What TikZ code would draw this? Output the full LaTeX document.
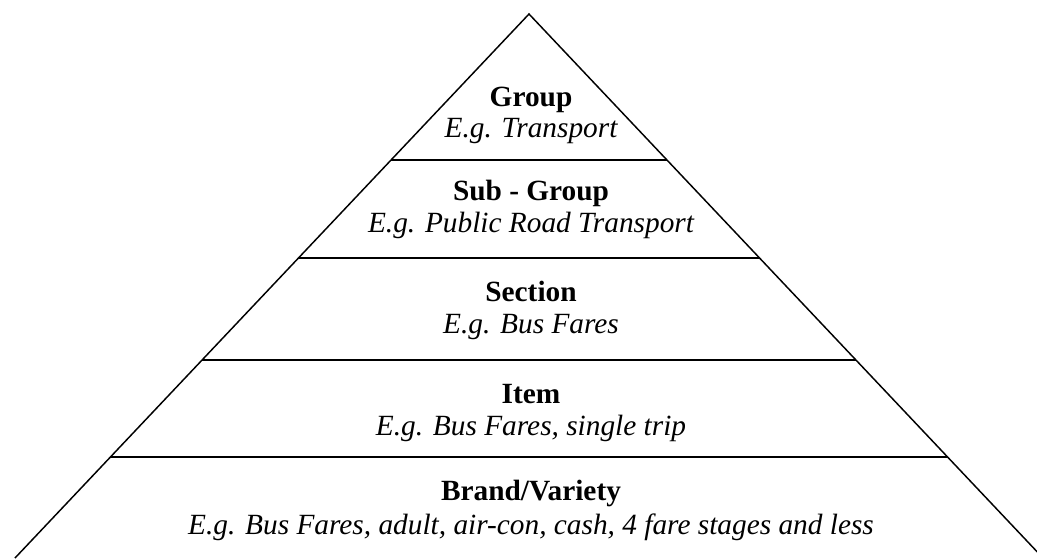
\documentclass[tikz,border=0pt]{standalone}
\usepackage{fontspec}
\setmainfont{Liberation Serif}
\usetikzlibrary{calc}

\begin{document}
\begin{tikzpicture}[x=0.75pt,y=-0.75pt,line width=1.1pt]
	\tikzstyle{Title}=[anchor=base,inner sep=0pt,font=\fontsize{22}{26}\selectfont\bfseries]
	\tikzstyle{Example}=[anchor=base,inner sep=0pt,font=\fontsize{22}{26}\selectfont\itshape]
	\useasboundingbox (0,0) rectangle (1037,558);
	\clip (0,0) rectangle (1037,558);
	\coordinate (apex) at (529,14);
	\coordinate (BL) at (15,558);
	\coordinate (BR) at (1043,558);
	\draw (BL) -- (apex) -- (BR);
	% levels
	\foreach \t in {0.2684,0.4485,0.6360,0.8143}
		\draw ($(apex)!\t!(BL)$) -- ($(apex)!\t!(BR)$);
	\node[Title] (group) at (531,106) {Group};
	\node[Example] (groupEx) at (531,137) {E.g. Transport};
	\node[Title] (subgroup) at (531,200) {Sub - Group};
	\node[Example] (subgroupEx) at (531,232) {E.g. Public Road Transport};
	\node[Title] (section) at (531,301) {Section};
	\node[Example] (sectionEx) at (531,333) {E.g. Bus Fares};
	\node[Title] (item) at (531,403) {Item};
	\node[Example] (itemEx) at (531,435) {E.g. Bus Fares, single trip};
	\node[Title] (brand) at (531,500) {Brand/Variety};
	\node[Example] (brandEx) at (531,534) {E.g. Bus Fares, adult, air-con, cash, 4 fare stages and less};
\end{tikzpicture}
\end{document}
